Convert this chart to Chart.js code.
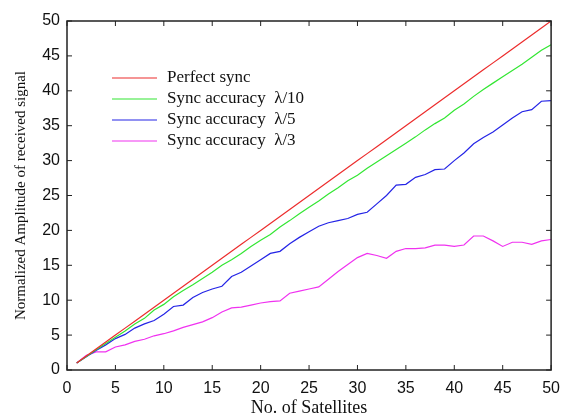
<!DOCTYPE html>
<html>
<head>
<meta charset="utf-8">
<script src="https://cdn.jsdelivr.net/npm/chart.js@4.4.1/dist/chart.umd.min.js"></script>
<style>
  html, body { margin: 0; padding: 0; background: #fff; }
  #wrap { width: 569px; height: 419px; position: relative; }
</style>
</head>
<body>
<div id="wrap"><canvas id="chart"></canvas></div>
<script>
// number of satellites
const satellites = [1, 2, 3, 4, 5, 6, 7, 8, 9, 10, 11, 12, 13, 14, 15, 16, 17, 18, 19, 20,
    21, 22, 23, 24, 25, 26, 27, 28, 29, 30, 31, 32, 33, 34, 35, 36, 37, 38, 39, 40,
    41, 42, 43, 44, 45, 46, 47, 48, 49, 50];

const perfectSync = [1, 2, 3, 4, 5, 6, 7, 8, 9, 10, 11, 12, 13, 14, 15, 16, 17, 18, 19, 20,
    21, 22, 23, 24, 25, 26, 27, 28, 29, 30, 31, 32, 33, 34, 35, 36, 37, 38, 39, 40,
    41, 42, 43, 44, 45, 46, 47, 48, 49, 50];

const syncL10 = [1, 1.95, 2.9, 3.8, 4.7, 5.6, 6.6, 7.4, 8.6, 9.4, 10.5, 11.4, 12.2, 13.1, 14.0,
    15.0, 15.8, 16.7, 17.7, 18.6, 19.4, 20.5, 21.4, 22.4, 23.3, 24.2, 25.2, 26.1, 27.1, 27.9,
    28.9, 29.8, 30.7, 31.6, 32.5, 33.4, 34.4, 35.3, 36.1, 37.2, 38.1, 39.2, 40.2, 41.1, 42.0,
    42.9, 43.8, 44.8, 45.8, 46.6];

const syncL5 = [1, 1.9, 2.8, 3.6, 4.5, 5.1, 6.0, 6.6, 7.1, 8.0, 9.1, 9.3, 10.4, 11.1, 11.6,
    12.0, 13.4, 14.0, 14.9, 15.8, 16.7, 17.0, 18.1, 19.0, 19.8, 20.6, 21.1, 21.4, 21.7, 22.3,
    22.6, 23.8, 25.0, 26.5, 26.6, 27.6, 28.0, 28.7, 28.8, 30.0, 31.1, 32.4, 33.3, 34.1, 35.1,
    36.1, 37.0, 37.3, 38.5, 38.6];

const syncL3 = [1, 2.1, 2.6, 2.6, 3.3, 3.6, 4.1, 4.4, 4.9, 5.2, 5.6, 6.1, 6.5, 6.9, 7.5,
    8.3, 8.9, 9.0, 9.3, 9.6, 9.8, 9.9, 11.0, 11.3, 11.6, 11.9, 13.0, 14.1, 15.1, 16.1,
    16.7, 16.4, 16.0, 17.0, 17.4, 17.4, 17.5, 17.9, 17.9, 17.7, 17.9, 19.2, 19.2, 18.5, 17.7,
    18.3, 18.3, 18.0, 18.5, 18.7];

const seriesNames = ['Perfect sync', 'Sync accuracy  \u03bb/10', 'Sync accuracy  \u03bb/5', 'Sync accuracy  \u03bb/3'];
const seriesColors = ['rgb(236,44,44)', 'rgb(50,230,50)', 'rgb(36,36,230)', 'rgb(240,50,240)'];
const xTicks = [0, 5, 10, 15, 20, 25, 30, 35, 40, 45, 50];
const yTicks = [0, 5, 10, 15, 20, 25, 30, 35, 40, 45, 50];

function toPoints(values) {
    return satellites.map((s, i) => ({ x: s, y: values[i] }));
}

// legend drawn inside the axes like matlab does
const innerLegend = {
    id: 'innerLegend',
    afterDatasetsDraw(chart) {
        const ctx = chart.ctx;
        ctx.save();
        ctx.font = '17px "Liberation Serif", "Times New Roman", serif';
        ctx.textBaseline = 'middle';
        ctx.fillStyle = '#111';
        chart.data.datasets.forEach((ds, i) => {
            const y = 78 + i * 21;
            ctx.strokeStyle = ds.borderColor;
            ctx.lineWidth = 1.2;
            ctx.beginPath();
            ctx.moveTo(112, y);
            ctx.lineTo(157, y);
            ctx.stroke();
            ctx.fillText(ds.label, 167, y);
        });
        ctx.restore();
    }
};

// box round the plot with inward tick marks on all four sides
const axesBox = {
    id: 'axesBox',
    afterDraw(chart) {
        const ctx = chart.ctx;
        const a = chart.chartArea;
        const xs = chart.scales.x, ys = chart.scales.y;
        ctx.save();
        ctx.strokeStyle = '#222';
        ctx.lineWidth = 1.5;
        ctx.strokeRect(a.left, a.top, a.right - a.left, a.bottom - a.top);
        ctx.lineWidth = 1;
        ctx.beginPath();
        xTicks.forEach(v => {
            const px = xs.getPixelForValue(v);
            ctx.moveTo(px, a.bottom); ctx.lineTo(px, a.bottom - 5);
            ctx.moveTo(px, a.top); ctx.lineTo(px, a.top + 5);
        });
        yTicks.forEach(v => {
            const py = ys.getPixelForValue(v);
            ctx.moveTo(a.left, py); ctx.lineTo(a.left + 5, py);
            ctx.moveTo(a.right, py); ctx.lineTo(a.right - 5, py);
        });
        ctx.stroke();
        ctx.restore();
    }
};

const datasets = [perfectSync, syncL10, syncL5, syncL3].map((vals, i) => ({
    label: seriesNames[i],
    data: toPoints(vals),
    borderColor: seriesColors[i],
    backgroundColor: seriesColors[i],
    borderWidth: 1.2,
    pointRadius: 0,
    tension: 0,
    fill: false
}));

new Chart(document.getElementById('chart'), {
    type: 'line',
    data: { datasets: datasets },
    options: {
        responsive: true,
        maintainAspectRatio: false,
        animation: false,
        layout: { padding: { left: 0, right: 13, top: 21, bottom: 0 } },
        plugins: {
            legend: { display: false },
            tooltip: { enabled: false }
        },
        scales: {
            x: {
                type: 'linear',
                min: 0,
                max: 50,
                afterBuildTicks: s => { s.ticks = xTicks.map(v => ({ value: v })); },
                afterFit: s => { s.height = 49; },
                grid: { display: false, drawTicks: false },
                border: { display: false },
                ticks: {
                    padding: 9,
                    color: '#111',
                    font: { family: '"Liberation Sans", Arial, sans-serif', size: 16 }
                },
                title: {
                    display: true,
                    text: 'No. of Satellites',
                    color: '#111',
                    padding: { top: 0, bottom: 0 },
                    font: { family: '"Liberation Serif", "Times New Roman", serif', size: 18 }
                }
            },
            y: {
                type: 'linear',
                min: 0,
                max: 50,
                afterBuildTicks: s => { s.ticks = yTicks.map(v => ({ value: v })); },
                afterFit: s => { s.width = 67; },
                grid: { display: false, drawTicks: false },
                border: { display: false },
                ticks: {
                    padding: 7,
                    color: '#111',
                    font: { family: '"Liberation Sans", Arial, sans-serif', size: 16 }
                },
                title: {
                    display: true,
                    text: 'Normalized Amplitude of received signal',
                    color: '#111',
                    padding: { top: 12, bottom: 0 },
                    font: { family: '"Liberation Serif", "Times New Roman", serif', size: 15 }
                }
            }
        }
    },
    plugins: [innerLegend, axesBox]
});
</script>
</body>
</html>
